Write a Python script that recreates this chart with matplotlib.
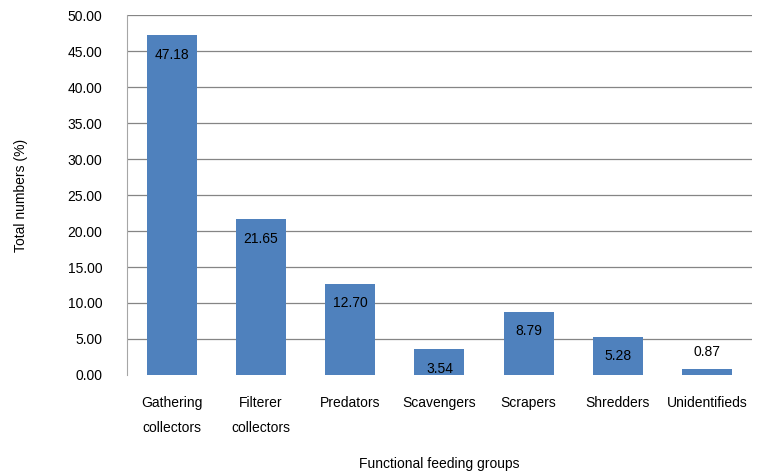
import numpy as np
import matplotlib.pyplot as plt

plt.rcParams['font.family'] = ['Liberation Sans', 'DejaVu Sans']

groups = ['Gathering\ncollectors', 'Filterer\ncollectors', 'Predators', 'Scavengers',
          'Scrapers', 'Shredders', 'Unidentifieds']
values = [47.18, 21.65, 12.70, 3.54, 8.79, 5.28, 0.87]
yticks = np.arange(0, 50.01, 5)

fig = plt.figure(figsize=(7.57, 4.74), dpi=100)
ax = fig.add_axes([0.168, 0.209, 0.825, 0.759])

x = np.arange(len(groups))
bars = ax.bar(x, values, width=0.56, color='#4F81BD', zorder=3)

for xi, v in zip(x, values):
    if v > 2:
        ax.annotate(f'{v:.2f}', (xi, v), xytext=(0, -14), textcoords='offset points',
                    ha='center', va='center', fontsize=10, zorder=4)
    else:
        ax.annotate(f'{v:.2f}', (xi, v), xytext=(0, 12), textcoords='offset points',
                    ha='center', va='center', fontsize=10, zorder=4)

ax.set_xlim(-0.5, len(groups) - 0.5)
ax.set_ylim(0, 50)
ax.set_yticks(yticks)
ax.set_yticklabels([f'{t:.2f}' for t in yticks], fontsize=10)
ax.set_xticks(x)
ax.set_xticklabels(groups, fontsize=10, linespacing=2.0, va='top')
ax.tick_params(axis='both', length=0, pad=18)
ax.tick_params(axis='x', pad=15)

ax.yaxis.grid(True, color='#858585', lw=0.9, zorder=0)
ax.get_ygridlines()[0].set_visible(False)
for s in ['top', 'right', 'bottom']:
    ax.spines[s].set_visible(False)
ax.spines['left'].set_color('#a6a6a6')

ax.set_ylabel('Total numbers (%)', fontsize=10, labelpad=28)
ax.set_xlabel('Functional feeding groups', fontsize=10, labelpad=16)

plt.savefig('out.png')
plt.close()
